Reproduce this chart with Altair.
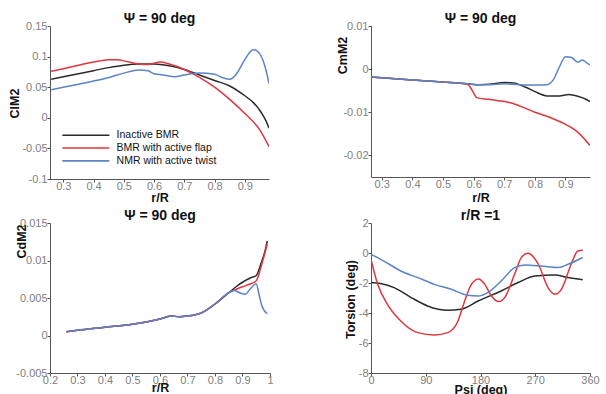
import altair as alt
import pandas as pd

SERIES = ["Inactive BMR", "BMR with active flap", "NMR with active twist"]
COLORS = ["#2b2b2b", "#e2353c", "#5a84c6"]

# ---- Panel 1: ClM2 vs r/R ----
cl_black_x = [0.26, 0.3, 0.35, 0.4, 0.45, 0.5, 0.55, 0.6, 0.65, 0.7, 0.75, 0.8, 0.85, 0.9, 0.93, 0.95, 0.96, 0.97, 0.98]
cl_black_y = [0.063, 0.067, 0.072, 0.077, 0.082, 0.086, 0.088, 0.088, 0.085, 0.079, 0.070, 0.061, 0.052, 0.036, 0.024, 0.012, 0.004, -0.005, -0.017]
cl_red_x = [0.26, 0.3, 0.35, 0.4, 0.45, 0.48, 0.5, 0.55, 0.58, 0.6, 0.62, 0.65, 0.7, 0.75, 0.8, 0.85, 0.9, 0.95, 0.98]
cl_red_y = [0.076, 0.080, 0.086, 0.091, 0.095, 0.095, 0.093, 0.088, 0.087, 0.089, 0.091, 0.088, 0.079, 0.066, 0.050, 0.030, 0.007, -0.020, -0.047]
cl_blue_x = [0.26, 0.3, 0.35, 0.4, 0.45, 0.5, 0.55, 0.58, 0.6, 0.63, 0.67, 0.7, 0.75, 0.8, 0.83, 0.85, 0.87, 0.9, 0.92, 0.93, 0.95, 0.97, 0.98]
cl_blue_y = [0.046, 0.050, 0.055, 0.060, 0.066, 0.073, 0.078, 0.077, 0.072, 0.070, 0.067, 0.070, 0.073, 0.071, 0.065, 0.063, 0.070, 0.095, 0.109, 0.111, 0.104, 0.078, 0.056]

# ---- Panel 2: CmM2 vs r/R ----
cm_black_x = [0.265, 0.3, 0.4, 0.5, 0.58, 0.62, 0.65, 0.7, 0.73, 0.77, 0.8, 0.84, 0.88, 0.91, 0.94, 0.97, 0.98]
cm_black_y = [-0.0018, -0.0020, -0.0025, -0.0030, -0.0034, -0.0036, -0.0035, -0.0031, -0.0032, -0.0042, -0.0052, -0.0062, -0.0062, -0.0059, -0.0063, -0.0071, -0.0075]
cm_red_x = [0.265, 0.3, 0.4, 0.5, 0.58, 0.6, 0.61, 0.65, 0.68, 0.72, 0.76, 0.8, 0.85, 0.9, 0.94, 0.98]
cm_red_y = [-0.0018, -0.0020, -0.0025, -0.0030, -0.0035, -0.0055, -0.0066, -0.0070, -0.0073, -0.0078, -0.0088, -0.0100, -0.0112, -0.0128, -0.0146, -0.0177]
cm_blue_x = [0.265, 0.3, 0.4, 0.5, 0.58, 0.62, 0.65, 0.7, 0.75, 0.8, 0.84, 0.86, 0.88, 0.9, 0.92, 0.94, 0.955, 0.97, 0.98]
cm_blue_y = [-0.0018, -0.0020, -0.0025, -0.0030, -0.0034, -0.0036, -0.0036, -0.0034, -0.0036, -0.0037, -0.0036, -0.0025, 0.0005, 0.0029, 0.0027, 0.0016, 0.0021, 0.0014, 0.0010]

# ---- Panel 3: CdM2 vs r/R ----
cd_common_x = [0.26, 0.3, 0.4, 0.5, 0.55, 0.6, 0.64, 0.67, 0.7, 0.75, 0.8, 0.85]
cd_common_y = [0.0005, 0.0007, 0.0011, 0.0015, 0.0018, 0.0022, 0.0026, 0.0025, 0.0026, 0.0030, 0.0042, 0.0057]
cd_black_x = cd_common_x + [0.88, 0.9, 0.93, 0.95, 0.96, 0.97, 0.98, 0.99]
cd_black_y = cd_common_y + [0.0066, 0.0071, 0.0077, 0.0080, 0.0088, 0.0099, 0.0110, 0.0126]
cd_red_x = cd_common_x + [0.88, 0.9, 0.93, 0.95, 0.96, 0.97, 0.98, 0.99]
cd_red_y = cd_common_y + [0.0062, 0.0065, 0.0069, 0.0073, 0.0082, 0.0095, 0.0108, 0.0122]
cd_blue_x = cd_common_x + [0.87, 0.89, 0.91, 0.93, 0.95, 0.96, 0.97, 0.99]
cd_blue_y = cd_common_y + [0.0060, 0.0057, 0.0055, 0.0063, 0.0069, 0.0055, 0.0040, 0.0029]

# ---- Panel 4: Torsion vs Psi ----
to_black_x = [0, 16, 38, 66, 93, 126, 148, 176, 214, 242, 269, 302, 324, 348]
to_black_y = [-1.97, -2.04, -2.31, -2.97, -3.53, -3.82, -3.75, -3.2, -2.53, -1.97, -1.53, -1.47, -1.64, -1.78]
to_red_x = [0, 11, 27, 49, 77, 104, 126, 143, 154, 165, 177, 187, 198, 210, 220, 236, 247, 258, 275, 291, 302, 313, 329, 340, 348]
to_red_y = [-0.42, -2.09, -3.42, -4.53, -5.31, -5.46, -5.31, -4.53, -3.2, -2.09, -1.73, -2.09, -2.87, -3.24, -2.96, -1.42, -0.31, -0.02, -0.75, -2.31, -2.75, -2.42, -0.75, 0.13, 0.18]
to_blue_x = [0, 11, 30, 49, 77, 104, 132, 159, 176, 192, 214, 236, 253, 280, 308, 324, 348]
to_blue_y = [-0.09, -0.31, -0.75, -1.2, -1.64, -2.09, -2.42, -2.82, -2.87, -2.64, -1.87, -0.98, -0.8, -0.87, -0.97, -0.75, -0.3]

FONT = "Liberation Sans"


def frame(xs_list, ys_list):
    rows = []
    for s, xs, ys in zip(SERIES, xs_list, ys_list):
        for i, (a, b) in enumerate(zip(xs, ys)):
            rows.append({"x": a, "y": b, "series": s, "idx": i})
    return pd.DataFrame(rows)


def panel(df, title, xdom, ydom, xvals, yvals, xtitle, ytitle, w, h,
          ytx, yty, xty, legend=None):
    color = alt.Color("series:N",
                      scale=alt.Scale(domain=SERIES, range=COLORS),
                      legend=legend)
    axis_common = dict(
        labelFont=FONT, labelFontSize=11, labelColor="#808080",
        titleFont=FONT, titleFontSize=12.5, titleFontWeight="bold", titleColor="#111111",
        domainColor="#555555", tickColor="#555555", tickSize=3, grid=False,
        labelExpr="'' + datum.value", labelFlush=False,
    )
    x = alt.X("x:Q", scale=alt.Scale(domain=xdom, nice=False, zero=False),
              axis=alt.Axis(values=xvals, title=xtitle, labelPadding=-2,
                            titleY=xty, titleBaseline="top", **axis_common))
    y = alt.Y("y:Q", scale=alt.Scale(domain=ydom, nice=False, zero=False),
              axis=alt.Axis(values=yvals, title=ytitle, labelPadding=0,
                            titleX=ytx, titleY=yty, titleAngle=270,
                            titleAlign="center", titleBaseline="bottom",
                            **axis_common))
    return alt.Chart(df).mark_line(strokeWidth=1.5, interpolate="monotone", clip=True).encode(
        x=x, y=y, color=color, order="idx:Q", detail="series:N"
    ).properties(
        width=w, height=h,
        title=alt.TitleParams(text=title, font=FONT, fontSize=14, fontWeight="bold",
                              color="#111111", anchor="middle", frame="group",
                              offset=4, dy=10),
    )


legend = alt.Legend(orient="none", legendX=30.6, legendY=104, title=None,
                    symbolType="M-8,0L8,0", symbolSize=34.5, symbolStrokeWidth=1.6,
                    labelFont=FONT, labelFontSize=10.5, labelColor="#111111",
                    labelOffset=25.5, rowPadding=1.8, padding=0)

p1 = panel(frame([cl_black_x, cl_red_x, cl_blue_x], [cl_black_y, cl_red_y, cl_blue_y]),
           "Ψ = 90 deg", [0.256, 0.98], [-0.1, 0.15],
           [0.3, 0.4, 0.5, 0.6, 0.7, 0.8, 0.9], [-0.1, -0.05, 0, 0.05, 0.1, 0.15],
           "r/R", "ClM2", 219, 153, -29, 77, 12, legend)
p2 = panel(frame([cm_black_x, cm_red_x, cm_blue_x], [cm_black_y, cm_red_y, cm_blue_y]),
           "Ψ = 90 deg", [0.265, 0.98], [-0.025, 0.01],
           [0.3, 0.4, 0.5, 0.6, 0.7, 0.8, 0.9], [-0.02, -0.01, 0, 0.01],
           "r/R", "CmM2", 219, 151, -22, 29, 14)
p3 = panel(frame([cd_black_x, cd_red_x, cd_blue_x], [cd_black_y, cd_red_y, cd_blue_y]),
           "Ψ = 90 deg", [0.2, 1.0], [-0.005, 0.015],
           [0.2, 0.3, 0.4, 0.5, 0.6, 0.7, 0.8, 0.9, 1], [-0.005, 0, 0.005, 0.01, 0.015],
           "r/R", "CdM2", 220, 150, -22, 18, 8)
p4 = panel(frame([to_black_x, to_red_x, to_blue_x], [to_black_y, to_red_y, to_blue_y]),
           "r/R =1", [0, 360], [-8, 2],
           [0, 90, 180, 270, 360], [-8, -6, -4, -2, 0, 2],
           "Psi (deg)", "Torsion (deg)", 219, 150, -14, 76, 10)

chart = alt.concat(p1, p2, p3, p4, columns=2, spacing={"row": 44, "column": 101},
                   bounds="flush").resolve_legend(color="independent").properties(
    autosize=alt.AutoSizeParams(type="none"),
    padding={"left": 50, "top": 26, "right": 556, "bottom": 368},
    background="white",
).configure_view(stroke=None)

chart.save("out.html", embed_options={"renderer": "svg", "actions": False})
